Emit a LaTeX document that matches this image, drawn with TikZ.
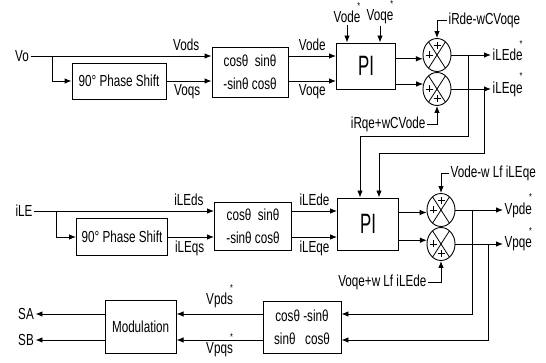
\documentclass[tikz,border=0pt]{standalone}
\usepackage{fontspec}
\setmainfont{Liberation Sans}[FakeStretch=0.73]
\newfontfamily\pifont{Liberation Sans}[FakeStretch=0.6]
\usetikzlibrary{arrows.meta,positioning,shapes.geometric}
\newcommand{\lblfont}{\fontsize{16}{18}\selectfont}
\newcommand{\pibig}{\pifont\fontsize{28}{30}\selectfont}
\newcommand{\refstar}{\llap{\smash{\raisebox{1.6ex}{\fontsize{10}{10}\selectfont *}}}}
\tikzset{
  ctrlbox/.style={draw, line width=0.9pt, align=center, inner sep=2pt, font=\lblfont},
  ctrlarrow/.style={-{Latex[length=7pt,width=5.5pt]}, line width=0.9pt},
  ctrllabel/.style={font=\lblfont, inner sep=1.5pt},
  sumnode/.style 2 args={draw, ellipse, line width=0.9pt, minimum width=28pt, minimum height=33pt, inner sep=0pt,
    path picture={
      \draw[line width=0.8pt] ([shift={(-9pt,14pt)}]path picture bounding box.center) -- ([shift={(9pt,-14pt)}]path picture bounding box.center)
        ([shift={(9pt,14pt)}]path picture bounding box.center) -- ([shift={(-9pt,-14pt)}]path picture bounding box.center);
      \draw[line width=0.6pt] ([shift={(#1)}]path picture bounding box.center) +(-3.5pt,0) -- +(3.5pt,0) +(0,-3.5pt) -- +(0,3.5pt);
      \draw[line width=0.6pt] ([shift={(#2)}]path picture bounding box.center) +(-3.5pt,0) -- +(3.5pt,0) +(0,-3.5pt) -- +(0,3.5pt);
    }}
}

\begin{document}
\begin{tikzpicture}[x=1pt, y=1pt]
  \useasboundingbox (0,0) rectangle (546,-363);

  % voltage loop
  \node[ctrllabel] (vo) at (22,-56) {Vo};
  \coordinate (br1) at (52,-56);
  \node[ctrlbox, minimum width=94pt, minimum height=36pt] (ps1) at (119,-81) {90° Phase Shift};
  \node[ctrlbox, minimum width=76pt, minimum height=50pt] (cs1) at (250,-72) {cosθ\ \ sinθ\\[5pt]-sinθ cosθ};
  \node[ctrlbox, minimum width=59pt, minimum height=46pt, font=\pibig] (pi1) at (366,-66) {PI};
  \node[ctrllabel] (vref) at (347,-17) {Vode\refstar};
  \node[ctrllabel] (vqref) at (380,-17) {Voqe\refstar};
  \node[sumnode={-8pt,0pt}{0pt,9.5pt}] (s1) at (437,-55) {};
  \node[sumnode={-8pt,0pt}{0pt,-9.5pt}] (s2) at (437,-89) {};
  \node[ctrllabel, anchor=west] (ilede) at (491,-55) {iLEde\refstar};
  \node[ctrllabel, anchor=west] (ileqe) at (491,-89) {iLEqe\refstar};
  \node[ctrllabel, anchor=west] (irde) at (447,-20) {iRde-wCVoqe};
  \node[ctrllabel, anchor=east] (irqe) at (427,-124) {iRqe+wCVode};

  \draw[ctrlarrow] (vo) -- node[ctrllabel, above=3pt, pos=.86] {Vods} (vo -| cs1.west);
  \draw[ctrlarrow] (br1) |- (ps1);
  \draw[ctrlarrow] (ps1) -- node[ctrllabel, below=2pt, pos=.46] {Voqs} (ps1 -| cs1.west);
  \draw[ctrlarrow] (cs1.east |- vo) -- node[ctrllabel, above=3pt] {Vode} (pi1.west |- vo);
  \draw[ctrlarrow] (cs1.east |- ps1) -- node[ctrllabel, below=2pt] {Voqe} (pi1.west |- ps1);
  \draw[ctrlarrow] (vref) -- (vref |- pi1.north);
  \draw[ctrlarrow] (vqref) -- (vqref |- pi1.north);
  \draw[ctrlarrow] (pi1.east |- s1.195) -- (s1.195);
  \draw[ctrlarrow] (pi1.east |- s2.160) -- (s2.160);
  \draw[ctrlarrow] (irde.west) -| (s1.north);
  \draw[ctrlarrow] (irqe.east) -| (s2.south);
  \draw[ctrlarrow] (s1) -- (ilede);
  \draw[ctrlarrow] (s2) -- (ileqe);

  % current loop
  \node[ctrllabel] (ile) at (24,-211) {iLE};
  \coordinate (br2) at (56,-211);
  \node[ctrlbox, minimum width=91pt, minimum height=37pt] (ps2) at (122,-237) {90° Phase Shift};
  \node[ctrlbox, minimum width=77pt, minimum height=48pt] (cs2) at (253,-226) {cosθ\ \ sinθ\\[5pt]-sinθ cosθ};
  \node[ctrlbox, minimum width=61pt, minimum height=52pt, font=\pibig] (pi2) at (368,-224) {PI};
  \node[sumnode={-8pt,0pt}{0pt,9.5pt}] (s3) at (441,-210) {};
  \node[sumnode={-8pt,0pt}{0pt,-9.5pt}] (s4) at (441,-244) {};
  \node[ctrllabel, anchor=west] (vpde) at (503,-210) {Vpde\refstar};
  \node[ctrllabel, anchor=west] (vpqe) at (503,-244) {Vpqe\refstar};
  \node[ctrllabel, anchor=west] (vodewlf) at (449,-173) {Vode-w Lf iLEqe};
  \node[ctrllabel, anchor=east] (voqewlf) at (428,-282) {Voqe+w Lf iLEde};

  \coordinate (fb1) at (468,-55);
  \coordinate (fb1c) at (360,-136);
  \coordinate (fb2) at (484,-89);
  \coordinate (fb2c) at (379,-153);
  \draw[ctrlarrow] (fb1) |- (fb1c) -- (fb1c |- pi2.north);
  \draw[ctrlarrow] (fb2) |- (fb2c) -- (fb2c |- pi2.north);

  \draw[ctrlarrow] (ile) -- node[ctrllabel, above=3pt, pos=.86] {iLEds} (ile -| cs2.west);
  \draw[ctrlarrow] (br2) |- (ps2);
  \draw[ctrlarrow] (ps2) -- node[ctrllabel, below=2pt, pos=.47] {iLEqs} (ps2 -| cs2.west);
  \draw[ctrlarrow] (cs2.east |- ile) -- node[ctrllabel, above=3pt] {iLEde} (pi2.west |- ile);
  \draw[ctrlarrow] (cs2.east |- ps2) -- node[ctrllabel, below=2pt] {iLEqe} (pi2.west |- ps2);
  \draw[ctrlarrow] (pi2.east |- s3.190) -- (s3.190);
  \draw[ctrlarrow] (pi2.east |- s4.165) -- (s4.165);
  \draw[ctrlarrow] (vodewlf.west) -| (s3.north);
  \draw[ctrlarrow] (voqewlf.east) -| (s4.south);
  \draw[ctrlarrow] (s3) -- (vpde);
  \draw[ctrlarrow] (s4) -- (vpqe);

  % inverse transform and modulation
  \node[ctrlbox, minimum width=78pt, minimum height=52pt] (cs3) at (302,-327) {cosθ -sinθ\\[5pt]sinθ\ \ \ cosθ};
  \node[ctrlbox, minimum width=71pt, minimum height=53pt, left=86pt of cs3] (mod) {Modulation};
  \node[ctrllabel] (sa) at (26,-314) {SA};
  \node[ctrllabel] (sb) at (26,-340) {SB};
  \coordinate (fb3) at (472,-210);
  \coordinate (fb4) at (488,-244);

  \draw[ctrlarrow] (fb3) |- ([yshift=13pt]cs3.east);
  \draw[ctrlarrow] (fb4) |- ([yshift=-13pt]cs3.east);
  \draw[ctrlarrow] ([yshift=13pt]cs3.west) -- node[ctrllabel, above=4pt] {Vpds\refstar} ([yshift=13pt]mod.east);
  \draw[ctrlarrow] ([yshift=-13pt]cs3.west) -- node[ctrllabel, below=1pt] {Vpqs\refstar} ([yshift=-13pt]mod.east);
  \draw[ctrlarrow] ([yshift=13pt]mod.west) -- (sa);
  \draw[ctrlarrow] ([yshift=-13pt]mod.west) -- (sb);
\end{tikzpicture}
\end{document}
